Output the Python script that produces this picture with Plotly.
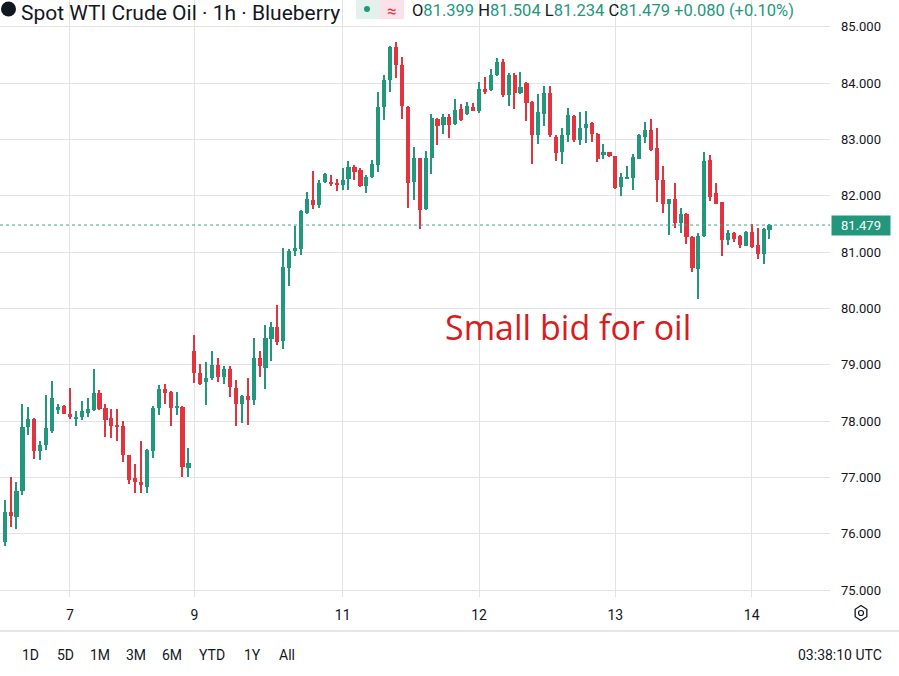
import math
import plotly.graph_objects as go

# ---------------- data ----------------
opens = [75.86, 76.39, 76.30, 76.76, 77.90, 78.04, 77.47, 77.57, 77.83, 78.20,
         78.27, 78.12, 78.05, 78.08, 78.15, 78.20, 78.49, 78.23, 78.05, 77.92,
         77.91, 77.39, 76.98, 76.91, 76.83, 77.47, 78.24, 78.56, 78.52, 78.24,
         78.25, 77.16, 79.25, 78.85, 78.70, 78.76, 79.00, 78.79, 78.92, 78.59,
         78.30, 78.45, 78.37, 79.11, 78.95, 79.46, 79.67, 79.42, 80.71, 81.02,
         81.05, 81.70, 81.92, 81.83, 82.25, 82.24, 82.22, 82.19, 82.30, 82.51,
         82.45, 82.17, 82.33, 82.55, 83.57, 84.06, 84.64, 84.32, 83.57, 82.24,
         82.67, 81.76, 82.67, 83.37, 83.25, 83.40, 83.27, 83.54, 83.45, 83.57,
         83.50, 83.90, 83.88, 84.14, 84.37, 83.79, 84.15, 83.82, 84.00, 83.67,
         83.08, 83.45, 83.83, 83.05, 82.77, 83.07, 83.41, 82.98, 83.21, 83.29,
         83.09, 82.72, 82.77, 82.70, 82.15, 82.31, 82.31, 82.66, 83.05, 83.17,
         82.84, 82.27, 81.86, 81.95, 81.52, 81.68, 81.27, 80.70, 81.28, 82.63,
         82.04, 81.88, 81.21, 81.34, 81.28, 81.11, 81.36, 81.12, 80.96, 81.399]
highs = [76.60, 77.00, 76.92, 78.31, 78.25, 78.06, 77.65, 78.47, 78.71, 78.31,
         78.28, 78.58, 78.17, 78.36, 78.41, 78.92, 78.55, 78.31, 78.21, 78.21,
         78.00, 77.40, 77.23, 77.65, 77.51, 78.27, 78.64, 78.65, 78.53, 78.52,
         78.27, 77.53, 79.52, 79.02, 79.05, 79.25, 79.11, 78.97, 78.97, 78.73,
         78.47, 78.76, 79.47, 79.25, 79.70, 79.75, 80.06, 81.08, 81.05, 81.46,
         81.75, 82.07, 82.43, 82.27, 82.41, 82.37, 82.29, 82.49, 82.61, 82.54,
         82.50, 82.36, 82.64, 83.84, 84.15, 84.65, 84.73, 84.46, 83.60, 82.86,
         82.67, 82.79, 83.45, 83.38, 83.45, 83.45, 83.72, 83.63, 83.66, 83.64,
         84.02, 84.11, 84.25, 84.44, 84.43, 84.17, 84.17, 84.19, 84.02, 83.69,
         83.80, 83.94, 83.94, 83.07, 83.20, 83.55, 83.43, 83.48, 83.50, 83.31,
         83.11, 82.92, 82.78, 82.71, 82.41, 82.53, 82.74, 83.09, 83.30, 83.37,
         83.20, 82.53, 81.95, 82.23, 81.79, 81.70, 81.28, 81.34, 82.78, 82.73,
         82.22, 81.89, 81.39, 81.36, 81.30, 81.37, 81.49, 81.43, 81.43, 81.504]
lows = [75.78, 76.12, 76.09, 76.69, 77.75, 77.32, 77.31, 77.49, 77.78, 78.12,
        78.12, 78.03, 77.91, 78.02, 78.08, 78.17, 78.20, 77.72, 77.69, 77.65,
        77.28, 76.89, 76.73, 76.73, 76.72, 77.34, 78.11, 78.31, 77.91, 78.11,
        77.00, 77.00, 78.67, 78.64, 78.28, 78.73, 78.70, 78.66, 78.43, 77.91,
        77.96, 77.93, 78.28, 78.78, 78.56, 79.07, 79.35, 79.27, 80.40, 80.93,
        80.95, 81.68, 81.76, 81.78, 82.22, 82.17, 82.09, 82.11, 82.11, 82.27,
        82.15, 82.05, 82.32, 82.42, 83.35, 83.84, 84.09, 83.37, 81.79, 81.92,
        81.40, 81.74, 82.39, 82.90, 83.10, 83.03, 83.25, 83.33, 83.43, 83.50,
        83.47, 83.81, 83.86, 84.12, 83.75, 83.60, 83.54, 83.81, 83.32, 82.56,
        82.92, 83.24, 83.05, 82.62, 82.56, 82.96, 82.96, 82.90, 82.94, 82.95,
        82.59, 82.65, 82.69, 82.12, 81.99, 82.30, 82.10, 82.65, 82.94, 82.80,
        81.89, 81.70, 81.31, 81.42, 81.33, 81.14, 80.65, 80.16, 81.27, 81.91,
        81.85, 80.93, 81.12, 81.17, 81.08, 81.10, 81.08, 80.87, 80.78, 81.234]
closes = [76.39, 76.31, 76.75, 77.90, 78.04, 77.47, 77.57, 77.87, 78.41, 78.25,
          78.12, 78.07, 78.08, 78.17, 78.21, 78.49, 78.21, 78.01, 77.91, 77.90,
          77.40, 76.96, 76.91, 76.88, 77.49, 78.24, 78.56, 78.50, 78.24, 78.27,
          77.18, 77.26, 78.86, 78.65, 78.77, 79.00, 78.78, 78.92, 78.60, 78.30,
          78.45, 78.37, 79.11, 78.98, 79.47, 79.67, 79.41, 80.73, 81.02, 81.07,
          81.73, 81.94, 81.83, 82.23, 82.38, 82.21, 82.19, 82.28, 82.51, 82.42,
          82.17, 82.34, 82.56, 83.57, 84.05, 84.64, 84.32, 83.59, 82.23, 82.67,
          81.74, 82.67, 83.38, 83.24, 83.40, 83.25, 83.53, 83.35, 83.60, 83.50,
          83.90, 83.84, 84.15, 84.37, 83.78, 84.14, 83.82, 83.93, 83.65, 83.08,
          83.48, 83.83, 83.07, 82.76, 83.07, 83.43, 82.98, 83.21, 83.28, 83.09,
          82.65, 82.77, 82.70, 82.13, 82.33, 82.34, 82.68, 83.07, 83.17, 82.81,
          82.28, 81.86, 81.94, 81.51, 81.67, 81.27, 80.71, 81.28, 82.62, 81.98,
          81.86, 81.21, 81.33, 81.24, 81.12, 81.36, 81.09, 80.96, 81.40, 81.479]

day_tick_index = [11, 32, 57, 80, 103, 126]
day_tick_labels = ["7", "9", "11", "12", "13", "14"]
price_ticks = [75, 76, 77, 78, 79, 80, 81, 82, 83, 84, 85]
last_price = 81.479
range_buttons = ["1D", "5D", "1M", "3M", "6M", "YTD", "1Y", "All"]
clock_text = "03:38:10 UTC"
title_text = "Spot WTI Crude Oil · 1h · Blueberry"
ohlc_header = [("O", "81.399"), ("H", "81.504"), ("L", "81.234"), ("C", "81.479")]
change_text = "+0.080 (+0.10%)"
note_text = "Small bid for oil"

# ---------------- styling ----------------
GREEN = "#22977c"
RED = "#e2343f"
GRID = "#e3e3e3"
TXT = "#131722"
FONT = "Roboto"

W, H = 899, 676
PL, PR, PT, PB = 0, 830, 0, 597
HDR_Y = 9  # header centre line (pixels from top)


def px_x(x):
    return (x - PL) / (PR - PL)


def px_y(y):
    return (PB - y) / (PB - PT)


idx = list(range(len(opens)))
cols = [GREEN if c >= o else RED for o, c in zip(opens, closes)]
body_base = [min(o, c) for o, c in zip(opens, closes)]
body_h = [max(abs(c - o), 0.02) for o, c in zip(opens, closes)]
wick_h = [h - l for h, l in zip(highs, lows)]

fig = go.Figure()
fig.add_trace(go.Bar(x=idx, y=wick_h, base=lows, width=0.2,
                     marker=dict(color=cols, line=dict(width=0)),
                     hoverinfo="skip", showlegend=False))
fig.add_trace(go.Bar(x=idx, y=body_h, base=body_base, width=0.7,
                     marker=dict(color=cols, line=dict(width=0)),
                     hoverinfo="skip", showlegend=False))

shapes = []
# last price dotted line
shapes.append(dict(type="line", xref="paper", yref="y", x0=0, x1=1,
                   y0=last_price, y1=last_price,
                   line=dict(color="#4a9e8a", width=1, dash="dot")))
# separator above bottom toolbar
shapes.append(dict(type="line", xref="paper", yref="paper",
                   x0=px_x(0), x1=px_x(W), y0=px_y(631), y1=px_y(631),
                   line=dict(color="#e6e6e6", width=2)))
# settings hexagon icon
cx, cy, r = 861, 613, 7.5
pts = []
for k in range(6):
    a = math.radians(90 + 60 * k)
    pts.append((px_x(cx + r * math.cos(a) * 0.9), px_y(cy - r * math.sin(a))))
path = "M " + " L ".join(f"{p[0]:.5f},{p[1]:.5f}" for p in pts) + " Z"
shapes.append(dict(type="path", xref="paper", yref="paper", path=path,
                   line=dict(color=TXT, width=1.3)))
shapes.append(dict(type="circle", xref="paper", yref="paper",
                   x0=px_x(cx - 2.5), x1=px_x(cx + 2.5),
                   y0=px_y(cy + 2.5), y1=px_y(cy - 2.5),
                   line=dict(color=TXT, width=1.2)))
# header logo + badge
shapes.append(dict(type="circle", xref="paper", yref="paper",
                   x0=px_x(1), x1=px_x(16), y0=px_y(HDR_Y + 7.5), y1=px_y(HDR_Y - 7.5),
                   fillcolor=TXT, line=dict(width=0)))
shapes.append(dict(type="rect", xref="paper", yref="paper",
                   x0=px_x(356), x1=px_x(380), y0=px_y(HDR_Y + 10), y1=px_y(0),
                   fillcolor="#e2f1ec", line=dict(width=0)))
shapes.append(dict(type="rect", xref="paper", yref="paper",
                   x0=px_x(380), x1=px_x(404), y0=px_y(HDR_Y + 10), y1=px_y(0),
                   fillcolor="#fbe2ea", line=dict(width=0)))
shapes.append(dict(type="circle", xref="paper", yref="paper",
                   x0=px_x(364), x1=px_x(370), y0=px_y(HDR_Y + 3), y1=px_y(HDR_Y - 3),
                   fillcolor=GREEN, line=dict(width=0)))

annotations = []
annotations.append(dict(xref="paper", yref="paper", x=px_x(20), y=px_y(0),
                        xanchor="left", yanchor="top", showarrow=False, borderpad=0,
                        text=title_text, font=dict(family=FONT, size=21, color=TXT)))
annotations.append(dict(xref="paper", yref="paper", x=px_x(392), y=px_y(0),
                        xanchor="center", yanchor="top", showarrow=False, borderpad=0,
                        text="≈", font=dict(family=FONT, size=17, color=RED)))
hdr = " ".join(f"<span style='color:{TXT}'>{k}</span><span style='color:{GREEN}'>{v}</span>"
               for k, v in ohlc_header)
hdr += f" <span style='color:{GREEN}'>{change_text}</span>"
annotations.append(dict(xref="paper", yref="paper", x=px_x(411), y=px_y(0),
                        xanchor="left", yanchor="top", showarrow=False, borderpad=0,
                        text=hdr, font=dict(family=FONT, size=16.5, color=TXT)))
# note
annotations.append(dict(xref="x", yref="y", x=95.0, y=79.67,
                        xanchor="center", yanchor="middle", showarrow=False,
                        text=note_text, font=dict(family="Open Sans", size=34, color="#d91c20")))
# last price tag
annotations.append(dict(xref="paper", yref="y", x=1, y=last_price, xshift=1,
                        xanchor="left", yanchor="middle", showarrow=False,
                        text=f"{last_price:.3f}", bgcolor=GREEN, borderpad=2,
                        width=54, font=dict(family=FONT, size=13, color="white")))
# bottom toolbar
btn_x = [30, 65, 100, 136, 172, 212, 252, 287]
for bx, label in zip(btn_x, range_buttons):
    annotations.append(dict(xref="paper", yref="paper", x=px_x(bx), y=px_y(655),
                            xanchor="center", yanchor="middle", showarrow=False,
                            text=label, font=dict(family=FONT, size=14, color=TXT)))
annotations.append(dict(xref="paper", yref="paper", x=px_x(884), y=px_y(655),
                        xanchor="right", yanchor="middle", showarrow=False,
                        text=clock_text, font=dict(family=FONT, size=14, color=TXT)))

fig.update_layout(
    width=W, height=H,
    margin=dict(l=PL, r=W - PR, t=PT, b=H - PB),
    paper_bgcolor="white", plot_bgcolor="white",
    barmode="overlay", bargap=0,
    showlegend=False,
    shapes=shapes, annotations=annotations,
    xaxis=dict(range=[-0.79, 139.2], tickmode="array", tickvals=day_tick_index,
               ticktext=day_tick_labels, showgrid=True, gridcolor=GRID, gridwidth=1,
               zeroline=False, showline=False, ticks="", automargin=False,
               ticklabelstandoff=8,
               tickfont=dict(family=FONT, size=14, color=TXT), fixedrange=True),
    yaxis=dict(range=[74.876, 85.474], side="right", tickmode="array",
               tickvals=price_ticks, ticktext=[f"{v:.3f}" for v in price_ticks],
               showgrid=True, gridcolor=GRID, gridwidth=1, zeroline=False,
               showline=False, ticks="", automargin=False, ticklabelstandoff=10,
               tickfont=dict(family=FONT, size=13, color=TXT), fixedrange=True),
)

fig.write_html("out.html", config={"displayModeBar": False},
               post_script="document.body.style.margin='0';document.body.style.padding='0';")
